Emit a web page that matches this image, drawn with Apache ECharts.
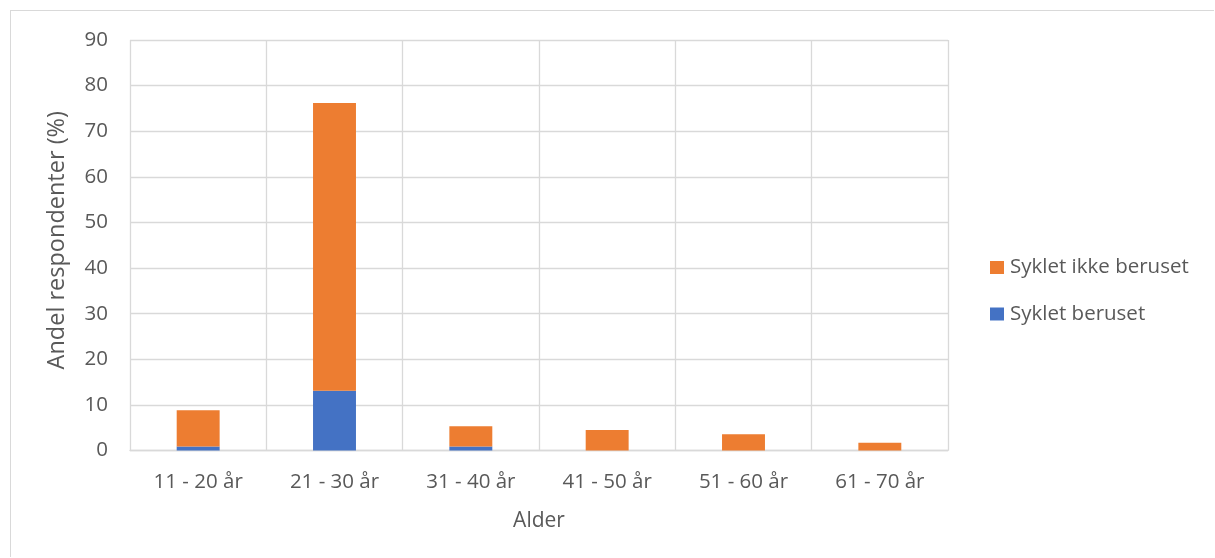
<!DOCTYPE html>
<html>
<head>
<meta charset="utf-8">
<script src="https://cdn.jsdelivr.net/npm/echarts@6/dist/echarts.min.js"></script>
<style>
  html, body { margin: 0; padding: 0; background: #fff; }
  #frame { position: absolute; left: 10px; top: 10px; width: 1204px; height: 547px; border: 1px solid #d9d9d9; border-right: none; border-bottom: none; box-sizing: border-box; }
  #chart { position: absolute; left: 0; top: 0; width: 1215px; height: 558px; }
</style>
</head>
<body>
<div id="frame"></div>
<div id="chart"></div>
<script>
// Age groups and share of respondents (%) per group
const categories = ['11 - 20 år', '21 - 30 år', '31 - 40 år', '41 - 50 år', '51 - 60 år', '61 - 70 år'];
const sykletBeruset = [0.9, 13.1, 0.9, 0, 0, 0];
const sykletIkkeBeruset = [7.9, 63.1, 4.4, 4.5, 3.55, 1.7];
const yTicks = { min: 0, max: 90, interval: 10 };

const FONT = '"Open Sans", "Noto Sans", sans-serif';
const TEXT = '#595959';
const GRID = '#d9d9d9';
const chart = echarts.init(document.getElementById('chart'), null, { renderer: 'canvas' });

chart.setOption({
  animation: false,
  textStyle: { fontFamily: FONT },
  grid: { left: 130, right: 267, top: 40, bottom: 107.5, containLabel: false },
  legend: {
    orient: 'vertical',
    left: 990,
    top: 257,
    padding: 0,
    itemWidth: 14,
    itemHeight: 13,
    itemGap: 25.5,
    icon: 'rect',
    textStyle: { fontFamily: FONT, fontSize: 20.5, color: TEXT, padding: [0, 0, 0, 1] },
    data: ['Syklet ikke beruset', 'Syklet beruset']
  },
  xAxis: {
    type: 'category',
    data: categories,
    boundaryGap: true,
    name: 'Alder',
    nameLocation: 'middle',
    nameGap: 60,
    nameTextStyle: { fontFamily: FONT, fontSize: 21, color: TEXT },
    axisLine: { show: true, lineStyle: { color: GRID, width: 1.3 } },
    axisTick: { show: false },
    axisLabel: { fontFamily: FONT, fontSize: 20.5, color: TEXT, margin: 21 },
    splitLine: { show: true, lineStyle: { color: GRID, width: 1.3 } }
  },
  yAxis: {
    type: 'value',
    min: yTicks.min,
    max: yTicks.max,
    interval: yTicks.interval,
    name: 'Andel respondenter (%)',
    nameLocation: 'middle',
    nameGap: 61,
    nameRotate: 90,
    nameTextStyle: { fontFamily: FONT, fontSize: 23.5, color: TEXT, padding: [0, 0, 0, 10] },
    axisLine: { show: false },
    axisTick: { show: false },
    axisLabel: { fontFamily: FONT, fontSize: 20.5, color: TEXT, margin: 22 },
    splitLine: { show: true, lineStyle: { color: GRID, width: 1.3 } }
  },
  series: [
    {
      name: 'Syklet beruset',
      type: 'bar',
      stack: 'total',
      barWidth: '31.5%',
      itemStyle: { color: '#4472C4' },
      data: sykletBeruset
    },
    {
      name: 'Syklet ikke beruset',
      type: 'bar',
      stack: 'total',
      barWidth: '31.5%',
      itemStyle: { color: '#ED7D31' },
      data: sykletIkkeBeruset
    }
  ]
});
</script>
</body>
</html>
